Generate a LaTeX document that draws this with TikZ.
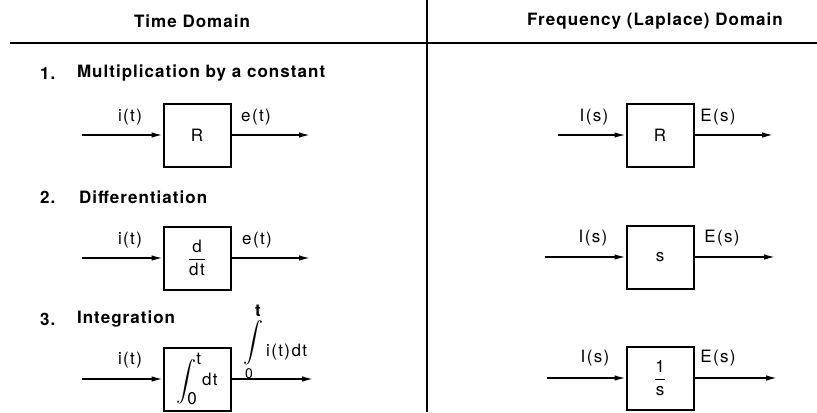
\documentclass[tikz,border=0pt]{standalone}
\usepackage{fontspec}
\setmainfont{TeX Gyre Heros}
\newfontfamily\headfont[LetterSpace=6]{TeX Gyre Heros}
\newfontfamily\labfont[LetterSpace=8]{TeX Gyre Heros}
\usetikzlibrary{arrows.meta,positioning}

\begin{document}
\begin{tikzpicture}[x=0.5pt,y=-0.5pt,
  blk/.style={draw,line width=1pt,minimum width=33.5pt,minimum height=31.5pt,
    inner sep=0pt,font=\fontsize{8.5}{10}\labfont},
  sig/.style={-{Latex[length=5.5pt,width=2.8pt]},line width=0.75pt},
  lab/.style={font=\fontsize{8.5}{10}\labfont},
  head/.style={font=\fontsize{8.5}{10}\headfont\bfseries},
  ttl/.style={anchor=west,font=\fontsize{8.5}{10}\headfont\bfseries}]
\useasboundingbox (0,0) rectangle (817,412);
% ---------- headings and rules ----------
\node[head] (hTime) at (192,21) {Time Domain};
\node[head] (hFreq) at (655,21) {Frequency (Laplace) Domain};
\draw[line width=1pt] (10,43) -- (817,43);
\draw[line width=1pt] (427,0) -- (427,412);
% ---------- row 1: multiplication ----------
\node[ttl] (n1) at (33,73) {1.};
\node[ttl] (t1) at (70,73) {Multiplication by a constant};
\node[blk] (tA) at (197,135) {R};
\coordinate (tAi) at (82,135);
\coordinate (tAo) at (310,135);
\draw[sig] (tAi) -- (tA);
\draw[sig] (tA) -- (tAo);
\node[lab] (tAin) at (130,117) {i(t)};
\node[lab] (tAout) at (256,117) {e(t)};
\node[blk] (fA) at (660,135) {R};
\coordinate (fAi) at (558,135);
\coordinate (fAo) at (773,135);
\draw[sig] (fAi) -- (fA);
\draw[sig] (fA) -- (fAo);
\node[lab] (fAin) at (594,117) {I(s)};
\node[lab] (fAout) at (718,117) {E(s)};
% ---------- row 2: differentiation ----------
\node[ttl] (n2) at (33,197) {2.};
\node[ttl] (t2) at (72,197) {Differentiation};
\node[blk] (tB) at (197,258) {$\displaystyle\frac{\mbox{d}}{\mbox{dt}}$};
\coordinate (tBi) at (82,258);
\coordinate (tBo) at (310,258);
\draw[sig] (tBi) -- (tB);
\draw[sig] (tB) -- (tBo);
\node[lab] (tBin) at (130,240) {i(t)};
\node[lab] (tBout) at (257,240) {e(t)};
\node[blk] (fB) at (660,257) {s};
\coordinate (fBi) at (545,257);
\coordinate (fBo) at (775,257);
\draw[sig] (fBi) -- (fB);
\draw[sig] (fB) -- (fBo);
\node[lab] (fBin) at (593,238) {I(s)};
\node[lab] (fBout) at (722,238) {E(s)};
% ---------- row 3: integration ----------
\node[ttl] (n3) at (33,319) {3.};
\node[ttl] (t3) at (70,319) {Integration};
\node[blk] (tC) at (197,379) {$\displaystyle\int_{\mbox{0}}^{\mbox{t}}\!\mbox{dt}$};
\coordinate (tCi) at (82,379);
\coordinate (tCo) at (313,379);
\draw[sig] (tCi) -- (tC);
\draw[sig] (tC) -- (tCo);
\node[lab] (tCin) at (130,360) {i(t)};
\node[anchor=base west,inner sep=0pt] (tCout) at (243,356)
  {\raisebox{5pt}{\fontsize{6.5}{8}\selectfont$\displaystyle\int\limits_{\mbox{\fontsize{7}{8}\labfont 0}}^{\mbox{\fontsize{8.5}{10}\labfont\bfseries t}}$}%
   \fontsize{8.5}{10}\labfont\,i(t)dt};
\node[blk] (fC) at (660,378) {$\displaystyle\frac{\mbox{1}}{\mbox{s}}$};
\coordinate (fCi) at (547,378);
\coordinate (fCo) at (777,378);
\draw[sig] (fCi) -- (fC);
\draw[sig] (fC) -- (fCo);
\node[lab] (fCin) at (595,358) {I(s)};
\node[lab] (fCout) at (718,358) {E(s)};
\end{tikzpicture}
\end{document}
